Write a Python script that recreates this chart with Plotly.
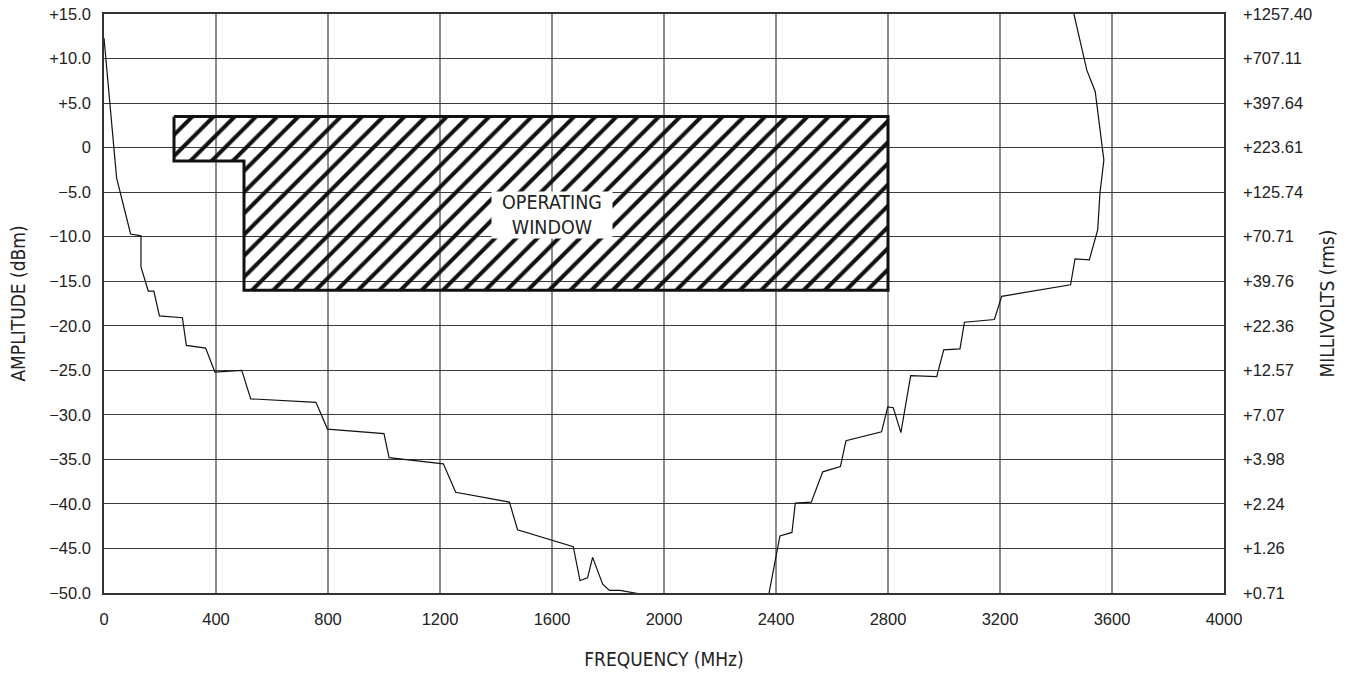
import plotly.graph_objects as go

# ---- data ----
low_freq = [0, 45, 95, 132, 132, 158, 178, 198, 280, 294, 363, 396, 492, 524, 757, 798,
            1000, 1018, 1212, 1256, 1448, 1477, 1676, 1700, 1727, 1745, 1781, 1805, 1843, 1885, 1930]
low_dbm = [12.3, -3.4, -9.7, -9.9, -13.4, -16.1, -16.1, -18.9, -19.1, -22.2, -22.5, -25.2, -25.0,
           -28.2, -28.6, -31.6, -32.1, -34.8, -35.5, -38.7, -39.8, -42.9, -44.8, -48.6, -48.3,
           -46.0, -49.0, -49.7, -49.7, -49.9, -50.2]

high_freq = [2374, 2414, 2457, 2469, 2526, 2567, 2630, 2650, 2777, 2799, 2819, 2846, 2881, 2974,
             2999, 3057, 3073, 3180, 3206, 3452, 3468, 3519, 3549, 3557, 3571, 3540, 3510, 3464]
high_dbm = [-50.2, -43.6, -43.2, -39.9, -39.8, -36.4, -35.8, -32.9, -31.9, -29.1, -29.2, -32.0,
            -25.6, -25.7, -22.7, -22.6, -19.6, -19.3, -16.7, -15.4, -12.5, -12.6, -9.2, -5.1,
            -1.4, 6.3, 8.7, 15.0]

window_freq = [250, 2800, 2800, 500, 500, 250, 250]
window_dbm = [3.5, 3.5, -16, -16, -1.5, -1.5, 3.5]

dbm_ticks = [15, 10, 5, 0, -5, -10, -15, -20, -25, -30, -35, -40, -45, -50]
dbm_labels = ["+15.0", "+10.0", "+5.0", "0", "\u22125.0", "\u221210.0", "\u221215.0", "\u221220.0",
              "\u221225.0", "\u221230.0", "\u221235.0", "\u221240.0", "\u221245.0", "\u221250.0"]
mv_labels = ["+1257.40", "+707.11", "+397.64", "+223.61", "+125.74", "+70.71", "+39.76",
             "+22.36", "+12.57", "+7.07", "+3.98", "+2.24", "+1.26", "+0.71"]
freq_ticks = [0, 400, 800, 1200, 1600, 2000, 2400, 2800, 3200, 3600, 4000]

TICKFONT = dict(family="Liberation Sans, Arial, Helvetica, sans-serif", size=16.5, color="#222")
NARROW = "Liberation Sans Narrow, Arial Narrow, DejaVu Sans Condensed, sans-serif"
TITLEFONT = dict(family=NARROW, size=19, color="#222")

fig = go.Figure()

fig.add_trace(go.Scatter(
    x=window_freq, y=window_dbm, mode="lines", fill="toself",
    fillcolor="rgba(0,0,0,0)",
    fillpattern=dict(shape="/", size=15, solidity=0.27, fgcolor="#111",
                     bgcolor="rgba(0,0,0,0)", fgopacity=1),
    line=dict(color="#111", width=3), hoverinfo="skip", showlegend=False))

fig.add_trace(go.Scatter(x=low_freq, y=low_dbm, mode="lines",
                         line=dict(color="#111", width=1.2), showlegend=False))
fig.add_trace(go.Scatter(x=high_freq, y=high_dbm, mode="lines",
                         line=dict(color="#111", width=1.2), showlegend=False))
# invisible trace to anchor the right-hand axis
fig.add_trace(go.Scatter(x=[0], y=[0], yaxis="y2", mode="markers",
                         marker=dict(opacity=0), hoverinfo="skip", showlegend=False))

fig.add_annotation(x=1600, y=-7.6, xref="x", yref="y", text="OPERATING<br>WINDOW",
                   showarrow=False, bgcolor="white", width=118, height=44,
                   font=dict(family=NARROW, size=19.5, color="#222"))

fig.update_layout(
    width=1351, height=678,
    margin=dict(l=104, r=127, t=14, b=85, autoexpand=False),
    paper_bgcolor="white", plot_bgcolor="white",
    xaxis=dict(range=[0, 4000], tickvals=freq_ticks, ticks="", tickfont=TICKFONT,
               automargin=False, ticklabelstandoff=10, ticklabeloverflow="allow",
               showgrid=True, gridcolor="#8c8c8c", gridwidth=1.5, zeroline=False,
               showline=True, linecolor="#333", linewidth=1.5, mirror=True,
               title=dict(text="FREQUENCY (MHz)", font=TITLEFONT, standoff=26)),
    yaxis=dict(range=[-50, 15], tickvals=dbm_ticks, ticktext=dbm_labels, ticks="",
               tickfont=TICKFONT, showgrid=True, gridcolor="#3a3a3a", gridwidth=1,
               automargin=False, ticklabeloverflow="allow",
               zeroline=False, showline=True, linecolor="#333", linewidth=1.5, mirror=True,
               ticklabelstandoff=8,
               title=dict(text="AMPLITUDE (dBm)", font=TITLEFONT, standoff=19)),
    yaxis2=dict(range=[-50, 15], overlaying="y", side="right", tickvals=dbm_ticks,
                ticktext=mv_labels, ticks="", tickfont=TICKFONT, showgrid=False,
                automargin=False, ticklabeloverflow="allow",
                zeroline=False, ticklabelstandoff=18,
                title=dict(text="MILLIVOLTS (rms)", font=TITLEFONT, standoff=9)),
)

fig.write_html("out.html", config={"displayModeBar": False},
               post_script="document.body.style.margin='0';")
